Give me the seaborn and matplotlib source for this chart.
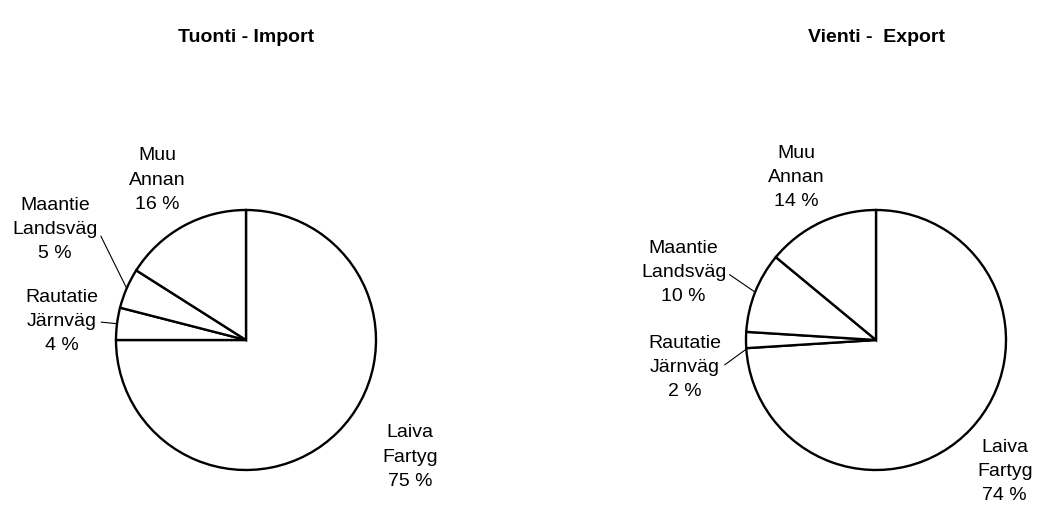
import numpy as np
import matplotlib
matplotlib.use("Agg")
import matplotlib.pyplot as plt
import seaborn as sns

sns.set_theme(style="white")
plt.rcParams['font.family'] = ['Liberation Sans', 'DejaVu Sans']
plt.rcParams['text.color'] = 'black'

# Shares by transport mode (clockwise from 12 o'clock)
categories = ["Laiva\nFartyg", "Rautatie\nJärnväg", "Maantie\nLandsväg", "Muu\nAnnan"]
import_share = [75, 4, 5, 16]
export_share = [74, 2, 10, 14]
titles = ["Tuonti - Import", "Vienti -  Export"]

W, H = 1042, 518
R = 130          # pie radius in pixels
L = 1.2          # axes half-extent in data units
FS = 14
LS = 1.55
fig = plt.figure(figsize=(W / 100, H / 100), dpi=100)

# label positions (data units, pie radius = 1) and leader angles
label_pos = [
    {0: (1.26, -0.90), 1: (-1.42, 0.14), 2: (-1.47, 0.85), 3: (-0.68, 1.23)},
    {0: (0.99, -1.01), 1: (-1.47, -0.21), 2: (-1.48, 0.52), 3: (-0.61, 1.25)},
]
leader = [{1: 172.8, 2: 156.6}, {1: 184.0, 2: 158.4}]
centers = [(246, 340), (876, 340)]

for i, (share, title) in enumerate(zip([import_share, export_share], titles)):
    cx, cy = centers[i]
    half = L * R
    ax = fig.add_axes([(cx - half) / W, (H - cy - half) / H, 2 * half / W, 2 * half / H])
    ax.pie(share, startangle=90, counterclock=False, colors=["white"] * len(share),
           wedgeprops=dict(edgecolor="black", linewidth=1.7))
    ax.set_xlim(-L, L)
    ax.set_ylim(-L, L)
    ax.set_axis_off()
    for j, (cat, val) in enumerate(zip(categories, share)):
        txt = f"{cat}\n{val} %"
        tx, ty = label_pos[i][j]
        if j in leader[i]:
            a = np.deg2rad(leader[i][j])
            ax.annotate(txt, xy=(np.cos(a), np.sin(a)), xytext=(tx, ty),
                        ha="center", va="center", fontsize=FS, linespacing=LS,
                        color="black",
                        arrowprops=dict(arrowstyle="-", color="black", lw=0.8,
                                        relpos=(1, 0.5), shrinkA=0, shrinkB=0))
        else:
            ax.text(tx, ty, txt, ha="center", va="center", fontsize=FS,
                    linespacing=LS, color="black")
    fig.text(cx / W, 1 - 37 / H, title, ha="center", va="center",
             fontsize=FS, fontweight="bold", color="black")

fig.savefig("out.png", dpi=100, facecolor="white")
